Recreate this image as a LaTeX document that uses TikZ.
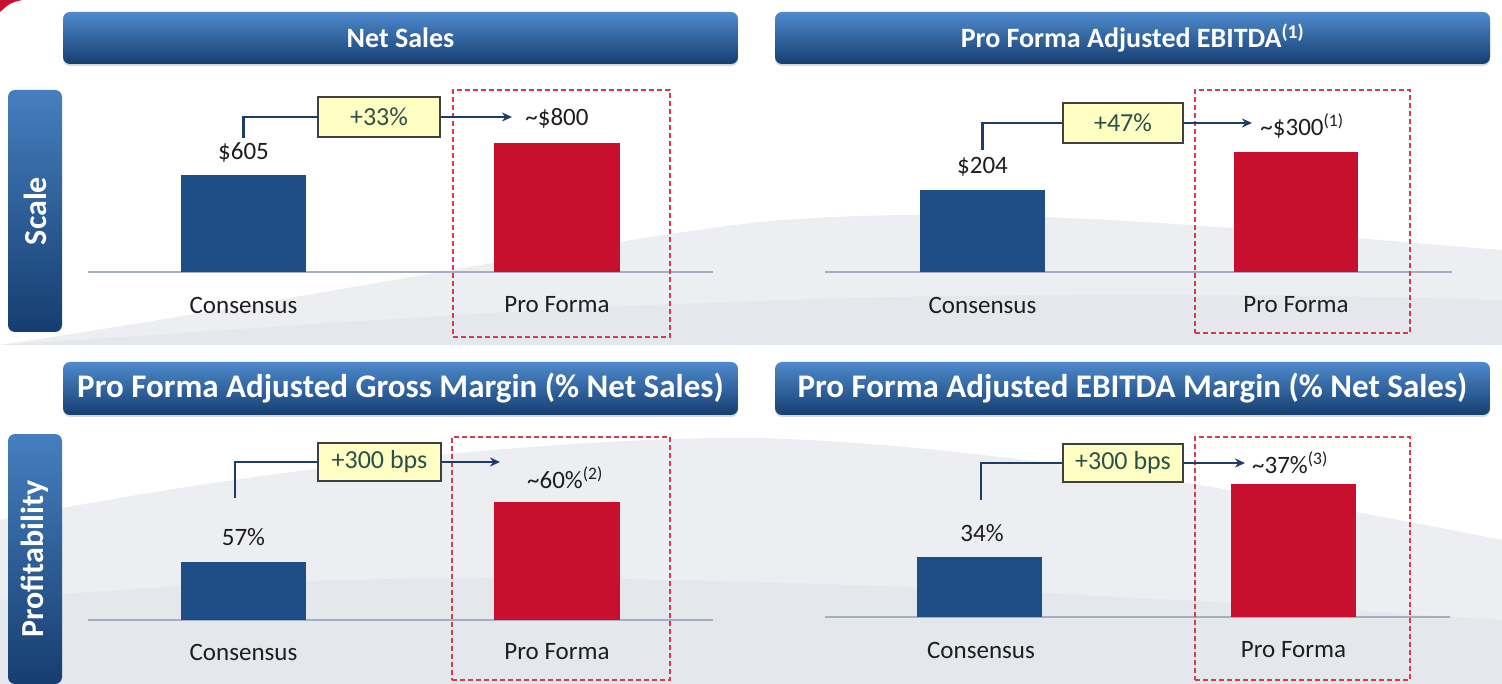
\documentclass[tikz,border=0pt]{standalone}
\usepackage{fontspec}
\setmainfont{Carlito}
\usetikzlibrary{arrows.meta,shadows}
\definecolor{tbtop}{RGB}{78,138,205}
\definecolor{tbbot}{RGB}{22,62,112}
\definecolor{navy}{RGB}{31,78,135}
\definecolor{redbar}{RGB}{200,16,46}
\definecolor{gainfill}{RGB}{255,255,196}
\definecolor{gaintext}{RGB}{40,82,72}
\definecolor{connc}{RGB}{30,60,105}
\definecolor{dashred}{RGB}{214,60,80}
\definecolor{basec}{RGB}{165,175,190}
\definecolor{swoosh}{RGB}{236,238,242}
\definecolor{swooshd}{RGB}{228,231,236}
\definecolor{lbltext}{RGB}{30,30,30}
\begin{document}
\begin{tikzpicture}[x=1pt,y=-1pt,
  titlebar/.style={rounded corners=7pt, top color=tbtop, bottom color=tbbot, draw=none,
    text=white, font=\fontsize{28}{30}\selectfont\bfseries, inner sep=0pt,
    drop shadow={opacity=0.3, shadow xshift=0pt, shadow yshift=-2pt}},
  bigtitle/.style={font=\fontsize{33}{35}\selectfont\bfseries},
  sidebar/.style={rounded corners=7pt, top color=tbtop!85!tbbot, bottom color=tbbot, draw=none,
    text=white, font=\fontsize{32}{34}\selectfont\bfseries, inner sep=0pt, rotate=90},
  navybar/.style={fill=navy, draw=none, anchor=south, inner sep=0pt},
  redbarst/.style={fill=redbar, draw=none, anchor=south, inner sep=0pt},
  lbl/.style={text=lbltext, font=\fontsize{25}{27}\selectfont, inner sep=1pt},
  gain/.style={fill=gainfill, draw=black!75, line width=1.3pt, text=gaintext,
    font=\fontsize{26}{28}\selectfont, inner sep=0pt},
  dbox/.style={draw=dashred, dashed, line width=1.4pt, dash pattern=on 5pt off 3pt, inner sep=0pt},
  conn/.style={draw=connc, line width=2.6pt},
  arrowc/.style={conn, -{Stealth[length=10pt,width=9pt]}},
  base/.style={draw=basec, line width=2pt}
]
\useasboundingbox (0,0) rectangle (1502,684);
% background
\fill[white] (0,0) rectangle (1502,684);
\fill[swoosh] (0,345) .. controls (300,300) and (600,240) .. (760,222) .. controls (1000,200) and (1300,235) .. (1502,250) -- (1502,345) -- cycle;
\fill[swooshd] (0,345) .. controls (400,320) and (800,280) .. (1502,300) -- (1502,345) -- cycle;
\fill[swoosh] (0,684) -- (0,520) .. controls (300,460) and (600,436) .. (760,438) .. controls (1000,445) and (1300,500) .. (1502,540) -- (1502,684) -- cycle;
\fill[swooshd] (0,684) -- (0,600) .. controls (400,560) and (900,580) .. (1502,620) -- (1502,684) -- cycle;
\fill[redbar] (0,0) -- (22,0) .. controls (10,3) .. (0,12) -- cycle;

% title bars
\node[titlebar, minimum width=675pt, minimum height=52pt] (t1) at (400.5,38) {Net Sales};
\node[titlebar, minimum width=715pt, minimum height=52pt] (t2) at (1132.5,38) {Pro Forma Adjusted EBITDA\textsuperscript{(1)}};
\node[titlebar, bigtitle, minimum width=675pt, minimum height=53pt] (t3) at (400.5,388.5) {Pro Forma Adjusted Gross Margin (\% Net Sales)};
\node[titlebar, bigtitle, minimum width=715pt, minimum height=53pt] (t4) at (1132.5,388.5) {Pro Forma Adjusted EBITDA Margin (\% Net Sales)};

% side bars
\node[sidebar, minimum width=242pt, minimum height=54pt] (s1) at (35,211) {Scale};
\node[sidebar, minimum width=250pt, minimum height=54pt] (s2) at (35,559) {Profitability};

% ---------- chart 1 ----------
\draw[base] (88,272) -- (713,272);
\node[dbox, minimum width=217pt, minimum height=247pt] (d1) at (561.5,213.5) {};
\node[navybar, minimum width=125pt, minimum height=97pt] (c1) at (243.5,272) {};
\node[redbarst, minimum width=126pt, minimum height=129pt] (p1) at (557,272) {};
\node[lbl] (c1l) at (243.5,305) {Consensus};
\node[lbl] (p1l) at (557,305) {Pro Forma};
\node[lbl] (c1v) at (243.5,152) {\$605};
\node[lbl] (p1v) at (557,118) {\textasciitilde\$800};
\node[gain, minimum width=122pt, minimum height=40pt] (g1) at (379,117) {+33\%};
\coordinate (a1) at (243.5,138);
\coordinate (e1) at (512,117);
\draw[conn] (a1) |- (g1.west);
\draw[arrowc] (g1.east) -- (e1);

% ---------- chart 2 ----------
\draw[base] (825,272) -- (1452,272);
\node[dbox, minimum width=215pt, minimum height=243pt] (d2) at (1302.5,211.5) {};
\node[navybar, minimum width=125pt, minimum height=82pt] (c2) at (982.5,272) {};
\node[redbarst, minimum width=124pt, minimum height=120pt] (p2) at (1296,272) {};
\node[lbl] (c2l) at (982.5,305) {Consensus};
\node[lbl] (p2l) at (1296,305) {Pro Forma};
\node[lbl] (c2v) at (982.5,167) {\$204};
\node[lbl] (p2v) at (1302,126) {\textasciitilde\$300\textsuperscript{(1)}};
\node[gain, minimum width=120pt, minimum height=40pt] (g2) at (1123,123) {+47\%};
\coordinate (a2) at (982.5,150);
\coordinate (e2) at (1252,123);
\draw[conn] (a2) |- (g2.west);
\draw[arrowc] (g2.east) -- (e2);

% ---------- chart 3 ----------
\draw[base] (88,620) -- (713,620);
\node[dbox, minimum width=218pt, minimum height=243pt] (d3) at (561,558.5) {};
\node[navybar, minimum width=125pt, minimum height=58pt] (c3) at (243.5,620) {};
\node[redbarst, minimum width=126pt, minimum height=118pt] (p3) at (557,620) {};
\node[lbl] (c3l) at (243.5,652) {Consensus};
\node[lbl] (p3l) at (557,652) {Pro Forma};
\node[lbl] (c3v) at (243.5,537) {57\%};
\node[lbl] (p3v) at (565,478) {\textasciitilde60\%\textsuperscript{(2)}};
\node[gain, minimum width=123pt, minimum height=38pt] (g3) at (379.5,462) {+300 bps};
\coordinate (a3) at (235,498);
\coordinate (e3) at (500,462);
\draw[conn] (a3) |- (g3.west);
\draw[arrowc] (g3.east) -- (e3);

% ---------- chart 4 ----------
\draw[base] (825,617) -- (1450,617);
\node[dbox, minimum width=215pt, minimum height=243pt] (d4) at (1302.5,558.5) {};
\node[navybar, minimum width=125pt, minimum height=60pt] (c4) at (979.5,617) {};
\node[redbarst, minimum width=125pt, minimum height=133pt] (p4) at (1293.5,617) {};
\node[lbl] (c4l) at (981,650) {Consensus};
\node[lbl] (p4l) at (1293.5,650) {Pro Forma};
\node[lbl] (c4v) at (982,533) {34\%};
\node[lbl] (p4v) at (1290,463) {\textasciitilde37\%\textsuperscript{(3)}};
\node[gain, minimum width=120pt, minimum height=38pt] (g4) at (1123,463) {+300 bps};
\coordinate (a4) at (981,500);
\coordinate (e4) at (1245,463);
\draw[conn] (a4) |- (g4.west);
\draw[arrowc] (g4.east) -- (e4);
\end{tikzpicture}
\end{document}
